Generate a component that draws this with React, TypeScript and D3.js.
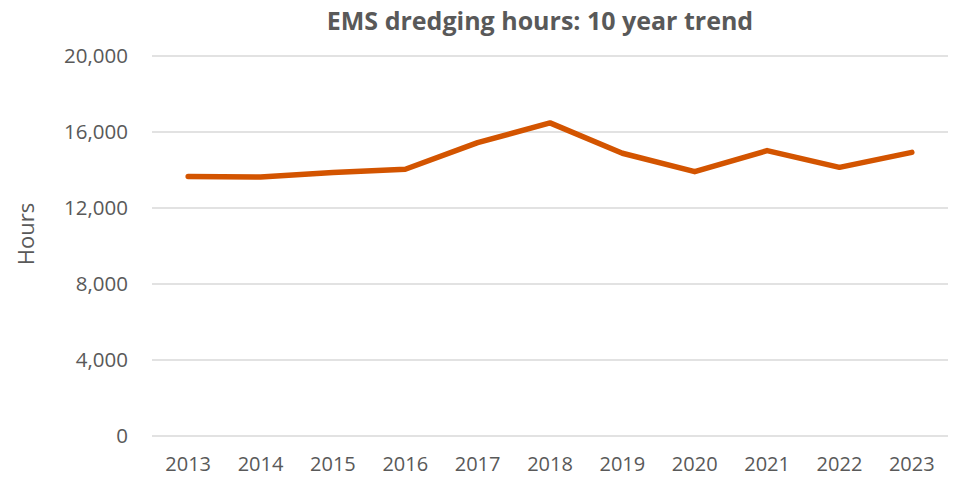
import React, {useEffect, useRef} from 'react';
import * as d3 from "d3";

const years = ["2013", "2014", "2015", "2016", "2017", "2018", "2019", "2020", "2021", "2022", "2023"];
const hours = [13660, 13630, 13870, 14040, 15440, 16480, 14880, 13910, 15020, 14140, 14930];
const yTicks = [0, 4000, 8000, 12000, 16000, 20000];
const title = "EMS dredging hours: 10 year trend";
const yLabel = "Hours";

const width = 954;
const height = 478;

const App = () => {
    const svgRef = useRef<SVGSVGElement | null>(null);

    useEffect(() => {
        const svg = d3.select(svgRef.current);
        svg.selectAll("*").remove();
        const font = "'Open Sans', sans-serif";

        const xScale = d3.scalePoint<string>()
            .domain(years)
            .range([152, 948])
            .padding(0.5);
        const yScale = d3.scaleLinear()
            .domain([0, 20000])
            .range([436, 56]);

        // gridlines
        svg.append("g")
            .selectAll("line")
            .data(yTicks)
            .join("line")
            .attr("x1", 152)
            .attr("x2", 948)
            .attr("y1", d => yScale(d))
            .attr("y2", d => yScale(d))
            .attr("stroke", "#d9d9d9")
            .attr("stroke-width", 1.5);

        // y tick labels
        svg.append("g")
            .selectAll("text")
            .data(yTicks)
            .join("text")
            .attr("x", 128)
            .attr("y", d => yScale(d))
            .attr("dy", "0.36em")
            .attr("text-anchor", "end")
            .attr("font-family", font)
            .attr("font-size", 20.5)
            .attr("fill", "#595959")
            .text(d => d3.format(",")(d));

        // x tick labels
        svg.append("g")
            .selectAll("text")
            .data(years)
            .join("text")
            .attr("x", d => xScale(d) as number)
            .attr("y", 471)
            .attr("text-anchor", "middle")
            .attr("font-family", font)
            .attr("font-size", 20)
            .attr("fill", "#595959")
            .text(d => d);

        // line
        const line = d3.line<number>()
            .x((d, i) => xScale(years[i]) as number)
            .y(d => yScale(d));
        svg.append("path")
            .datum(hours)
            .attr("d", line)
            .attr("fill", "none")
            .attr("stroke", "#D35400")
            .attr("stroke-width", 5.5)
            .attr("stroke-linejoin", "round")
            .attr("stroke-linecap", "round");

        // title
        svg.append("text")
            .attr("x", 540)
            .attr("y", 30)
            .attr("text-anchor", "middle")
            .attr("font-family", font)
            .attr("font-weight", "bold")
            .attr("font-size", 25)
            .attr("fill", "#595959")
            .text(title);

        // y axis title
        svg.append("text")
            .attr("transform", "translate(34, 234) rotate(-90)")
            .attr("text-anchor", "middle")
            .attr("font-family", font)
            .attr("font-size", 22)
            .attr("fill", "#595959")
            .text(yLabel);
    }, []);

    return (
        <svg ref={svgRef} width={width} height={height}
             style={{position: "absolute", left: 0, top: 0, background: "#fff"}}>
        </svg>
    );
};

export default App;
